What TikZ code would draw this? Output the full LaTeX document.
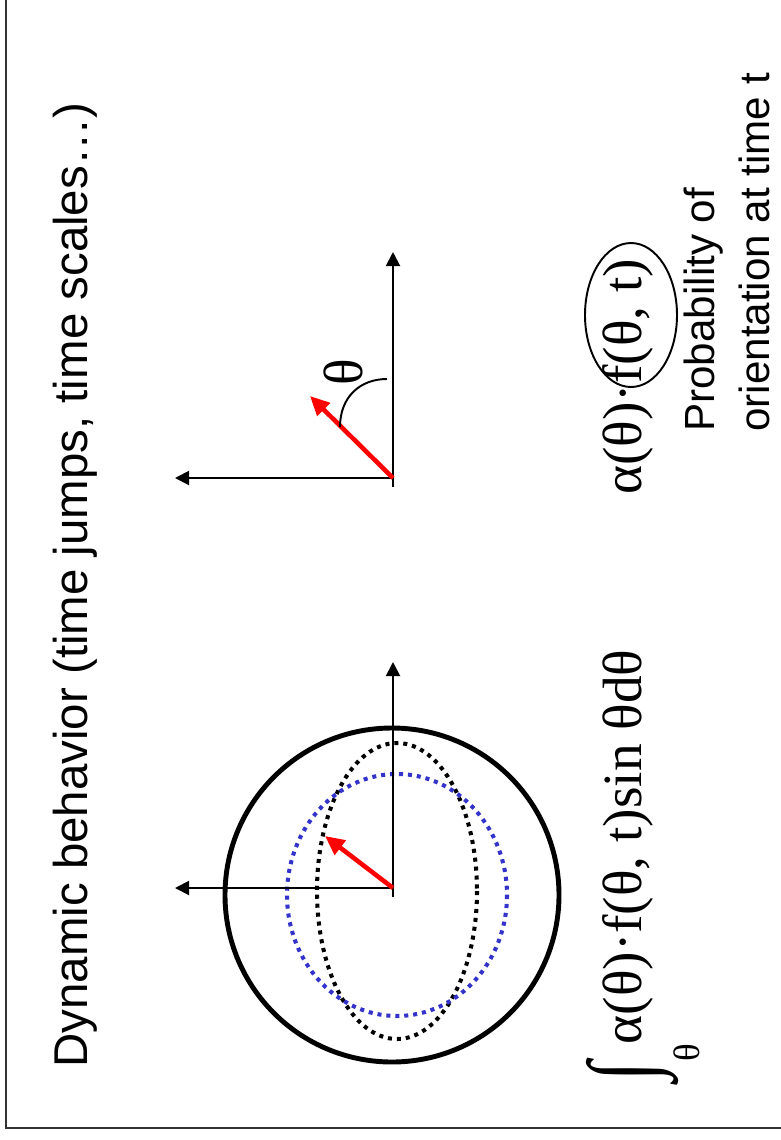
\documentclass[tikz,border=0pt]{standalone}
\usepackage{amsmath}
\usepackage{fontspec}
\setmainfont{Liberation Serif}
\setsansfont{Liberation Sans}
\usetikzlibrary{arrows.meta}
\definecolor{dotblue}{HTML}{3333CC}

\begin{document}
\begin{tikzpicture}[x=0.02cm,y=-0.02cm,
  ttl/.style={font=\sffamily\fontsize{27}{32}\selectfont,rotate=90},
  lbl/.style={font=\sffamily\fontsize{24}{31}\selectfont,rotate=90,align=left,inner sep=0pt},
  fml/.style={font=\fontsize{31.5}{36}\selectfont,rotate=90,inner sep=0pt},
  ax/.style={-{Triangle[length=8pt,width=8pt]},line width=1.1pt},
  vec/.style={-{Triangle[length=11pt,width=10pt]},red,line width=2.6pt},
  ring/.style={line width=2.8pt},
  dotk/.style={line width=2.3pt,dash pattern=on 2.3pt off 2.8pt},
  dotb/.style={dotk,dotblue}]
\useasboundingbox (0,0) rectangle (781,1140);
% frame
\draw[line width=1.2pt,black!80] (6,0) -- (6,1128) -- (781,1128);
% title
\node[ttl] (title) at (75,585) {Dynamic behavior (time jumps, time scales…)};
% sphere with distributions
\coordinate (o1) at (393,888);
\coordinate (b1) at (393,897);
\coordinate (up1) at (393,662);
\coordinate (lt1) at (175,888);
\coordinate (v1) at (325,836);
\draw[ring] (392,895) circle[radius=167];
\draw[dotk] (397,891) ellipse[x radius=80,y radius=148];
\draw[dotb] (397,895) ellipse[x radius=110,y radius=121];
\draw[ax] (b1) -- (up1);
\draw[ax] (o1) -- (lt1);
\draw[vec] (o1) -- (v1);
% single orientation
\coordinate (o2) at (393,478);
\coordinate (b2) at (393,487);
\coordinate (up2) at (393,252);
\coordinate (lt2) at (175,478);
\coordinate (v2) at (310,396);
\coordinate (as) at (340,427);
\coordinate (ae) at (387,379);
\draw[ax] (b2) -- (up2);
\draw[ax] (o2) -- (lt2);
\draw[vec] (o2) -- (v2);
\draw[line width=1.1pt] (as) .. controls (340,397) and (360,379) .. (ae);
\node[fml] (th) at (343,372) {θ};
% formulas
\node[fml,anchor=base west] (pdf) at (641,495) {α(θ)·f(θ, t)};
\draw[line width=1.1pt] (631,315) ellipse[x radius=46,y radius=72];
\node[lbl,anchor=north west] (prob) at (684,432) {Probability of\\orientation at time t};
\node[fml,anchor=base west] (intg) at (641,1082) {\raisebox{-0.22em}{\scalebox{1.3}[1.7]{∫}}\raisebox{-1.05em}{\fontsize{21}{21}\selectfont θ}α(θ)·f(θ, t)sin θdθ};
\end{tikzpicture}
\end{document}
